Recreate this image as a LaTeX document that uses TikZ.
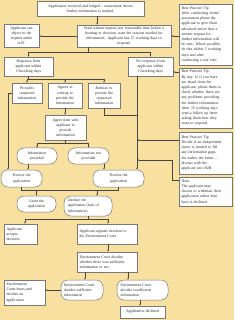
\documentclass[tikz,border=0pt]{standalone}
\usepackage{fontspec}
\setmainfont{Liberation Serif}
\usetikzlibrary{arrows.meta,calc}
\definecolor{bgc}{RGB}{248,225,160}
\definecolor{bdc}{RGB}{120,120,120}
\definecolor{lnc}{RGB}{70,70,70}
\begin{document}
\begin{tikzpicture}[x=1pt,y=-1pt,
  box/.style={draw=bdc,fill=white,line width=0.5pt,inner sep=0pt,font=\fontsize{3.9}{5.2}\selectfont,text=black!85},
  rbox/.style={box,rounded corners=7pt},
  ln/.style={draw=lnc,line width=0.4pt},
  arr/.style={ln,-{Latex[length=1.8pt,width=1.6pt]}}]
\fill[bgc] (0,0) rectangle (234,320);
\useasboundingbox (0,0) rectangle (234,320);
% x / y reference coordinates
\coordinate (X97) at (97,0);
\coordinate (X137) at (137,0);
\coordinate (X104) at (104,0);
\coordinate (X108) at (108,0);
\coordinate (X85) at (85,0);
\coordinate (X128) at (128,0);
\coordinate (X140) at (140,0);
\coordinate (X172) at (172,0);
\coordinate (X8) at (8,0);
\coordinate (X28) at (28,0);
\coordinate (Y72) at (0,72);
\coordinate (Y140) at (0,140);
\coordinate (Y160) at (0,160);
\coordinate (Y180) at (0,180);
% nodes
\node[box,minimum width=107pt,minimum height=15pt,text width=104pt,align=center] (top) at (90.5,8.5)
  {Application received and lodged -- assessment shows\\further information is needed.};
\node[box,minimum width=35pt,minimum height=23pt,text width=33pt,align=center] (object) at (21.5,35.5)
  {Applicant can\\object to the\\request under\\s107.};
\node[box,minimum width=94pt,minimum height=22pt,text width=92pt,align=center] (send) at (124,36)
  {Send written request any reasonable time before a\\hearing or decision, state the reasons needed for\\information. Applicant has 15 working days to\\respond.};
\node[box,minimum width=53pt,minimum height=61pt,text width=48pt,align=left] (tip1) at (205.5,34.5)
  {Best Practice Tip\\After conducting initial\\assessment phone the\\applicant to give them\\advanced notice that a\\written request for\\further information will\\be sent. Where possible,\\do this within 5 working\\days and after\\conducting a site visit};
\node[box,minimum width=49pt,minimum height=19pt,text width=47pt,align=center] (resp) at (28.5,66.5)
  {Response from\\applicant within\\15working days};
\node[box,minimum width=45pt,minimum height=19pt,text width=43pt,align=center] (noresp) at (150.5,66.5)
  {No response from\\applicant within\\15working days};
\node[box,minimum width=53pt,minimum height=60pt,text width=48pt,align=left] (tip2) at (205.5,98)
  {Best Practice Tip\\By day 12 if you have\\not heard from the\\applicant, phone them to\\check whether there are\\any problems providing\\the further information.\\After 15 working days\\send a follow up letter\\asking them how they\\want to respond.};
\node[box,minimum width=30pt,minimum height=20pt,text width=28pt,align=center] (provides) at (27,93)
  {Provides\\requested\\information};
\node[box,minimum width=34pt,minimum height=25pt,text width=32pt,align=center] (agrees) at (65,95.5)
  {Agrees in\\writing to\\provide the\\information};
\node[box,minimum width=32pt,minimum height=25pt,text width=30pt,align=center] (refuses) at (104,95.5)
  {Refuses to\\provide the\\requested\\information};
\node[box,minimum width=41pt,minimum height=25pt,text width=39pt,align=center] (agreetime) at (65.5,127.5)
  {Agree time with\\applicant to\\provide\\information};
\node[box,minimum width=53pt,minimum height=42pt,text width=48pt,align=left] (tip3) at (205.5,153)
  {Best Practice Tip\\Decide if an independent\\report is needed to fill\\any information gaps,\\the earlier the better --\\discuss with the\\applicant see s92B};
\node[rbox,minimum width=40pt,minimum height=16pt,text width=36pt,align=center] (infop) at (37,156)
  {Information\\provided};
\node[rbox,minimum width=41pt,minimum height=16pt,text width=38pt,align=center] (infonp) at (88.5,156)
  {Information not\\provided};
\node[rbox,minimum width=41pt,minimum height=17pt,text width=36pt,align=center] (procL) at (21.5,178.5)
  {Process the\\application};
\node[rbox,minimum width=51pt,minimum height=17pt,text width=46pt,align=center] (procR) at (118.5,178.5)
  {Process the\\application};
\node[box,minimum width=53pt,minimum height=29pt,text width=48pt,align=left] (note) at (205.5,191.5)
  {Note:\\The applicant may\\choose to withdraw their\\application rather than\\have it declined.};
\node[rbox,minimum width=39pt,minimum height=16pt,text width=33pt,align=center] (grant) at (36.5,204)
  {Grant the\\application};
\node[rbox,minimum width=48pt,minimum height=20pt,text width=40pt,align=left] (decline) at (88,206)
  {Decline the\\application (lack of\\information)};
\node[box,minimum width=33pt,minimum height=20pt,text width=28pt,align=left] (accepts) at (20.5,234)
  {Applicant\\accepts\\decision};
\node[box,minimum width=60pt,minimum height=20pt,text width=55pt,align=left] (appeals) at (107,234)
  {Applicant appeals decision to\\the Environment Court};
\node[box,minimum width=60pt,minimum height=20pt,text width=55pt,align=left] (envdec) at (107,262)
  {Environment Court decides\\whether there was sufficient\\information or not.};
\node[box,minimum width=41pt,minimum height=25pt,text width=36pt,align=left] (hears) at (24.5,292.5)
  {Environment\\Court hears and\\decides on\\application};
\node[rbox,minimum width=42pt,minimum height=20pt,text width=36pt,align=left] (suff) at (82,290)
  {Environment Court\\decides sufficient\\information};
\node[rbox,minimum width=51pt,minimum height=20pt,text width=44pt,align=left] (insuff) at (142.5,290)
  {Environment Court\\decides insufficient\\information};
\node[box,minimum width=45pt,minimum height=12pt,text width=43pt,align=center] (declined) at (142.5,312)
  {Application declined};
% junctions
\coordinate (J1) at (88,52);
\coordinate (J2) at (28.5,79);
\coordinate (J3) at (137,115);
\coordinate (J4) at (65.5,143);
\coordinate (J5) at (21.5,190);
\coordinate (J6) at (118.5,190);
\coordinate (J7) at (88,219);
\coordinate (X37) at (36.5,0);
\coordinate (X25) at (25,0);
% connectors
\draw[arr] (top.south -| X97) -- (send.north -| X97);
\draw[arr] (send.west) -- (object.east |- send.west);
\draw[arr] (tip1.west |- send.east) -- (send.east);
\draw[ln] (send.south -| J1) -- (J1);
\draw[arr] (J1) -| (resp.north);
\draw[arr] (J1) -| (noresp.north);
\draw[ln] (resp.south) -- (J2);
\draw[arr] (J2) -| (provides.north);
\draw[arr] (J2) -| (agrees.north);
\draw[arr] (J2) -| (refuses.north);
\draw[arr] (agrees.south) -- (agrees.south |- agreetime.north);
\draw[ln] (refuses.south) |- (J3);
\draw[arr] (noresp.south -| X137) -- (procR.north -| X137);
\draw[arr] (tip2.west |- Y72) -- (noresp.east |- Y72);
\draw[arr] (tip3.west |- Y140) -- (X137 |- Y140);
\draw[arr] (note.west |- Y180) -- (X172 |- Y180) -- (X172 |- Y160) -- (X137 |- Y160);
\draw[ln] (agreetime.south) -- (J4);
\draw[arr] (J4) -| (infop.north);
\draw[arr] (J4) -| (infonp.north);
\draw[arr] (provides.west) -| (procL.north -| X8);
\draw[arr] (infop.south -| X28) -- (procL.north -| X28);
\draw[arr] (infonp.south -| X104) -- (procR.north -| X104);
\draw[ln] (procL.south) -- (J5) -- (J6) -- (procR.south);
\draw[arr] (J5 -| X37) -- (grant.north -| X37);
\draw[arr] (J5 -| X97) -- (decline.north -| X97);
\draw[ln] (decline.south) -- (J7);
\draw[arr] (J7) -| (accepts.north -| X25);
\draw[arr] (J7) -| (appeals.north -| X108);
\draw[arr] (appeals.south -| X108) -- (envdec.north -| X108);
\draw[arr] (envdec.south -| X85) -- (suff.north -| X85);
\draw[arr] (envdec.south -| X128) -- (insuff.north -| X128);
\draw[arr] (suff.west) -- (hears.east |- suff.west);
\draw[arr] (insuff.south -| X140) -- (declined.north -| X140);
\end{tikzpicture}
\end{document}
